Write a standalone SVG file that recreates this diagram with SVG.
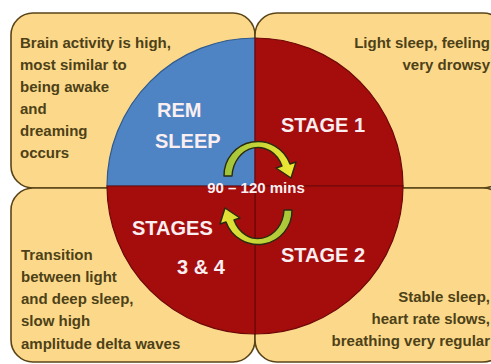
<svg xmlns="http://www.w3.org/2000/svg" width="491" height="364" viewBox="0 0 491 364">
<defs>
<style>
.box{fill:#fcd98a;stroke:#5a4418;stroke-width:1.6}
.desc{font-family:"Liberation Sans",Arial,sans-serif;font-size:15px;font-weight:bold;fill:#4d4118}
.lbl{font-family:"Liberation Sans",Arial,sans-serif;font-size:20px;font-weight:bold;fill:#fbeef0}
.mins{font-family:"Liberation Sans",Arial,sans-serif;font-size:15px;font-weight:bold;fill:#fbeef0}
.q{stroke-width:1.2}
.arrow{stroke:#2a2a10;stroke-width:1.4;stroke-linejoin:round}
</style>
<linearGradient id="yg" x1="0" y1="0" x2="1" y2="0">
<stop offset="0" stop-color="#9cc23a"/>
<stop offset="1" stop-color="#f4ea34"/>
</linearGradient>
<linearGradient id="gy" x1="0" y1="0" x2="1" y2="0">
<stop offset="0" stop-color="#e8e434"/>
<stop offset="1" stop-color="#a6c63a"/>
</linearGradient>
</defs>
<rect width="491" height="364" fill="#ffffff"/>
<g id="box-rem"><rect class="box" x="11" y="13" width="244" height="175" rx="22"/></g>
<g id="box-stage1"><rect class="box" x="255" y="13" width="250" height="175" rx="22"/></g>
<g id="box-stage34"><rect class="box" x="11" y="188" width="244" height="174" rx="22"/></g>
<g id="box-stage2"><rect class="box" x="255" y="188" width="250" height="174" rx="22"/></g>
<g id="circle">
<path class="q" d="M255 186 L107 186 A148 148 0 0 1 255 38 Z" fill="#4f84c4" stroke="#2f5a8e"/>
<path class="q" d="M255 186 L255 38 A148 148 0 0 1 403 186 Z" fill="#a50d0d" stroke="#6e0808"/>
<path class="q" d="M255 186 L403 186 A148 148 0 0 1 255 334 Z" fill="#a50d0d" stroke="#6e0808"/>
<path class="q" d="M255 186 L255 334 A148 148 0 0 1 107 186 Z" fill="#a50d0d" stroke="#6e0808"/>
</g>
<g id="connectors">
<path class="arrow" fill="url(#yg)" d="M224 176 A34 34 0 0 1 290 164 L296 162 L291 178 L276 168 L282 166 A26 30 0 0 0 232 176 Z"/>
<path class="arrow" fill="url(#gy)" d="M292 210 A34 34 0 0 1 226 222 L220 224 L225 208 L240 218 L234 220 A26 30 0 0 0 284 210 Z"/>
</g>
<g id="text-rem">
<text class="desc" x="20" y="48">Brain activity is high,</text>
<text class="desc" x="20" y="70">most similar to</text>
<text class="desc" x="20" y="92">being awake</text>
<text class="desc" x="20" y="114">and</text>
<text class="desc" x="20" y="136">dreaming</text>
<text class="desc" x="20" y="158">occurs</text>
<text class="lbl" x="157" y="117">REM</text>
<text class="lbl" x="155" y="148">SLEEP</text>
</g>
<g id="text-stage1">
<text class="desc" x="490" y="48" text-anchor="end">Light sleep, feeling</text>
<text class="desc" x="490" y="70" text-anchor="end">very drowsy</text>
<text class="lbl" x="281" y="132">STAGE 1</text>
</g>
<g id="text-stage34">
<text class="desc" x="21" y="260">Transition</text>
<text class="desc" x="21" y="282">between light</text>
<text class="desc" x="21" y="304">and deep sleep,</text>
<text class="desc" x="21" y="326">slow high</text>
<text class="desc" x="21" y="349">amplitude delta waves</text>
<text class="lbl" x="132" y="235">STAGES</text>
<text class="lbl" x="177" y="274">3 &amp; 4</text>
</g>
<g id="text-stage2">
<text class="desc" x="490" y="302" text-anchor="end">Stable sleep,</text>
<text class="desc" x="490" y="324" text-anchor="end">heart rate slows,</text>
<text class="desc" x="490" y="346" text-anchor="end">breathing very regular</text>
<text class="lbl" x="281" y="262">STAGE 2</text>
</g>
<g id="cycle"><text class="mins" x="256" y="193" text-anchor="middle">90 – 120 mins</text></g>
</svg>
